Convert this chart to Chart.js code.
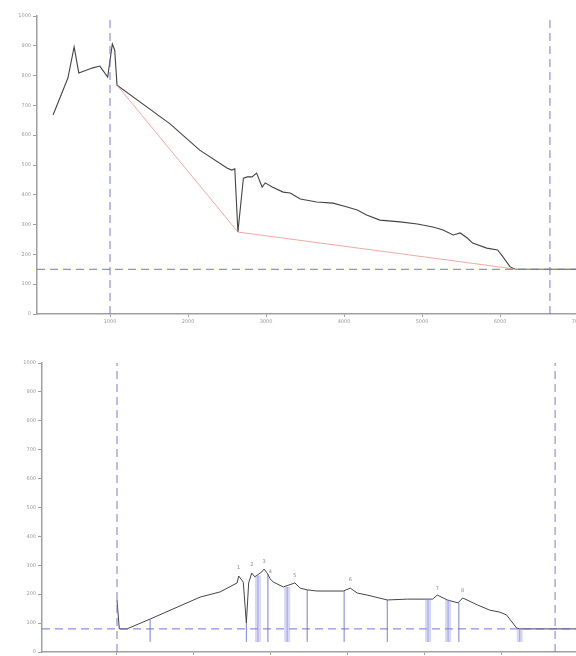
<!DOCTYPE html>
<html><head><meta charset="utf-8">
<script src="https://cdn.jsdelivr.net/npm/chart.js@4/dist/chart.umd.min.js"></script>
<style>
html,body{margin:0;padding:0;background:#fff;overflow:hidden;width:576px;height:656px;}
canvas{position:absolute;left:0;}
#c1{top:0;} #c2{top:330px;}
</style></head><body>
<canvas id="c1" width="600" height="330"></canvas>
<canvas id="c2" width="600" height="345"></canvas>
<script>
// ---------- top chart data ----------
const profileX = [270,460,540,600,780,870,970,1030,1060,1090,1770,2150,2500,2560,2600,2640,2710,2760,2820,2880,2950,2990,3080,3220,3310,3440,3650,3860,4040,4170,4290,4460,4720,4940,5140,5270,5400,5490,5580,5650,5830,5970,6040,6130,6190,7282];
const profileY = [668,792,896,809,826,832,795,906,886,768,638,550,490,483,487,275,456,460,460,473,426,440,426,409,406,386,376,372,359,349,332,315,309,302,292,282,265,272,255,238,221,215,191,158,151,150];
const gradeX = [1090,2640,6190];
const gradeY = [768,275,151];
const topBaseY = 150;
const topMarksX = [1000,6640];

// ---------- bottom chart data ----------
const indexX = [1000,1030,1130,1430,2080,2340,2560,2580,2640,2680,2710,2750,2790,2880,2910,2950,2990,3030,3160,3310,3380,3470,3600,3940,4030,4120,4250,4510,4770,5100,5160,5290,5430,5490,5680,5840,5970,6060,6190,6230,7273];
const indexY = [180,80,80,114,190,208,239,263,242,100,239,273,260,277,287,273,253,242,225,239,221,215,211,211,221,204,197,180,183,183,197,180,170,187,163,145,138,128,83,80,80];
const thinX = [1430,2680,2960,3470,3950,4510,5440];
const thinTop = [114,100,270,215,211,180,170];
const bandX = [2830,3210,5040,5300,6230];
const bandTop = [265,225,183,180,80];
const stemBase = 35;
const peakX = [2580,2750,2910,2990,3310,4030,5160,5490];
const peakY = [282,292,305,268,255,240,212,203];
const peakLabels = ['1','2','3','4','5','6','7','8'];
const botBaseY = 80;
const botMarksX = [1000,6690];

const yTicks = [0,100,200,300,400,500,600,700,800,900,1000];
const xTicks = [1000,2000,3000,4000,5000,6000,7000];

const DASH = 'rgba(105,105,220,0.75)';
const AX = '#a0a0a0';
const tickFont = {family:'DejaVu Sans', size:5};

function pts(xs, ys){ return xs.map((x,i)=>({x:x,y:ys[i]})); }
function segs(xs, tops, base){
  const d=[]; xs.forEach((x,i)=>{ d.push({x:x,y:base},{x:x,y:tops[i]},{x:x,y:null}); }); return d;
}
function line(data, color, width, dash){
  return {type:'line', data:data, borderColor:color, borderWidth:width, borderDash:dash||[], pointRadius:0, fill:false, tension:0, spanGaps:false};
}
function scales(xmin, xmax, yw, xh){
  return {
    x:{type:'linear', min:xmin, max:xmax,
       afterBuildTicks:s=>{s.ticks = xTicks.map(v=>({value:v}));},
       afterFit:s=>{s.height = xh;},
       ticks:{font:tickFont, color:'#999', maxRotation:0, padding:2, callback:v=>String(v)},
       grid:{drawOnChartArea:false, drawTicks:true, tickLength:3, color:AX},
       border:{color:AX, width:1.5}},
    y:{type:'linear', min:0, max:1000,
       afterBuildTicks:s=>{s.ticks = yTicks.map(v=>({value:v}));},
       afterFit:s=>{s.width = yw;},
       ticks:{font:tickFont, color:'#999', padding:2, callback:v=>String(v)},
       grid:{drawOnChartArea:false, drawTicks:true, tickLength:4, color:AX},
       border:{color:AX, width:1.5}}
  };
}
const common = {responsive:false, animation:false, plugins:{legend:{display:false}, tooltip:{enabled:false}}};

// top
const tXmin = 64, tXmax = 7282;
new Chart(document.getElementById('c1'), {
  type:'line',
  data:{datasets:[
    line(pts([tXmin,tXmax],[topBaseY,topBaseY]), DASH, 1.2, [8,5]),
    line(pts([topMarksX[0],topMarksX[0]],[0,1000]), DASH, 1.2, [8,5]),
    line(pts([topMarksX[1],topMarksX[1]],[0,1000]), DASH, 1.2, [8,5]),
    line(pts(gradeX, gradeY), 'rgba(225,120,110,0.7)', 0.9),
    line(pts(profileX, profileY), '#444', 1.1)
  ]},
  options:Object.assign({}, common, {
    layout:{padding:{top:16, right:0, left:0, bottom:0}},
    scales:scales(tXmin, tXmax, 37, 16)
  })
});

// bottom
const bXmin = 26, bXmax = 7273;
const labelPlugin = {
  id:'peakLabels',
  afterDatasetsDraw(chart){
    const ctx = chart.ctx, xs = chart.scales.x, ys = chart.scales.y;
    ctx.save(); ctx.fillStyle = '#888'; ctx.font = '5px DejaVu Sans'; ctx.textAlign='center'; ctx.textBaseline='bottom';
    peakX.forEach((x,i)=>ctx.fillText(peakLabels[i], xs.getPixelForValue(x), ys.getPixelForValue(peakY[i])));
    ctx.restore();
  }
};
new Chart(document.getElementById('c2'), {
  type:'line',
  data:{datasets:[
    line(segs(bandX, bandTop, stemBase), 'rgba(140,140,235,0.35)', 6),
    line(segs(bandX, bandTop, stemBase), 'rgba(100,100,215,0.55)', 1),
    line(segs(thinX, thinTop, stemBase), 'rgba(90,90,205,0.8)', 1),
    line(pts([bXmin,bXmax],[botBaseY,botBaseY]), DASH, 1.2, [8,5]),
    line(pts([botMarksX[0],botMarksX[0]],[0,1000]), DASH, 1.2, [8,5]),
    line(pts([botMarksX[1],botMarksX[1]],[0,1000]), DASH, 1.2, [8,5]),
    line(pts(indexX, indexY), '#444', 1.0)
  ]},
  options:Object.assign({}, common, {
    layout:{padding:{top:33, right:0, left:0, bottom:0}},
    scales:scales(bXmin, bXmax, 42, 23)
  }),
  plugins:[labelPlugin]
});
</script>
</body></html>
